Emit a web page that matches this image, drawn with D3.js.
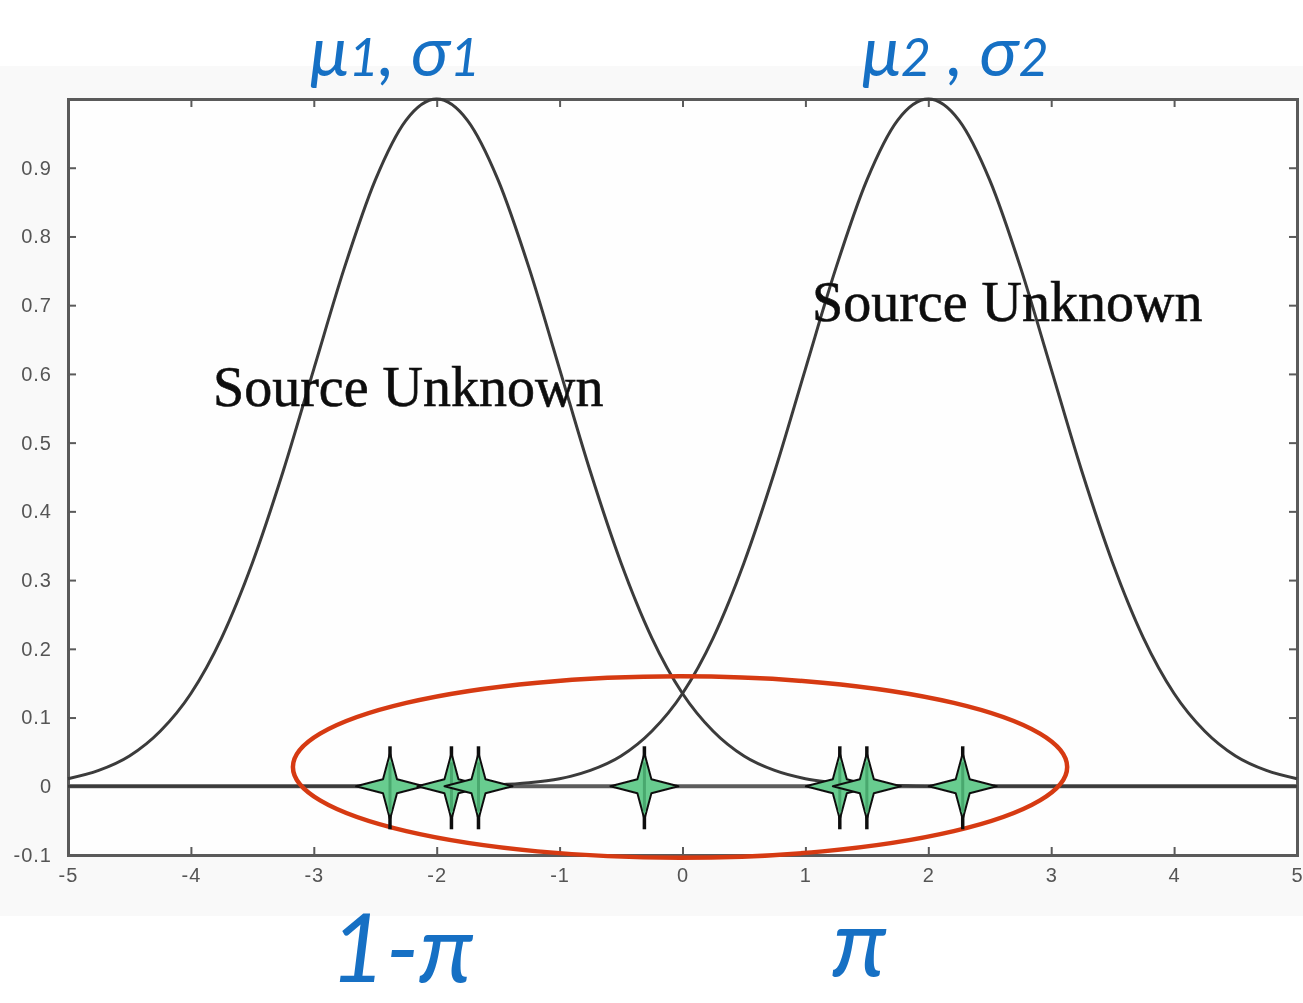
<!DOCTYPE html>
<html>
<head>
<meta charset="utf-8">
<script src="https://cdn.jsdelivr.net/npm/d3@7"></script>
<style>
  html, body { margin: 0; padding: 0; background: #ffffff; }
  svg { display: block; }
</style>
</head>
<body>
<svg id="chart" width="1303" height="1003"></svg>
<script>
// Sample positions along the x axis
const xs = [-5,-4.75,-4.5,-4.25,-4,-3.75,-3.5,-3.25,-3,-2.75,-2.5,-2.25,-2,-1.75,-1.5,-1.25,-1,-0.75,-0.5,-0.25,0,
            0.25,0.5,0.75,1,1.25,1.5,1.75,2,2.25,2.5,2.75,3,3.25,3.5,3.75,4,4.25,4.5,4.75,5];

// Left bell curve (centred at -2)
const curveLeft = [0.011,0.023,0.044,0.080,0.135,0.216,0.325,0.458,0.607,0.755,0.882,0.969,1.000,
                   0.969,0.882,0.755,0.607,0.458,0.325,0.216,0.135,0.080,0.044,0.023,0.011,0.005,0.002,0.001,0.000,
                   0,0,0,0,0,0,0,0,0,0,0,0,0];

// Right bell curve (centred at 2)
const curveRight = [0,0,0,0,0,0,0,0,0,0,0,0,
                    0.000,0.001,0.002,0.005,0.011,0.023,0.044,0.080,0.135,0.216,0.325,0.458,0.607,0.755,0.882,0.969,1.000,
                    0.969,0.882,0.755,0.607,0.458,0.325,0.216,0.135,0.080,0.044,0.023,0.011];

// Observed samples on the zero line
const samples = [-2.38,-1.88,-1.66,-0.31,1.28,1.50,2.28];

// Tick values
const xTicks = [-5,-4,-3,-2,-1,0,1,2,3,4,5];
const yTicks = [-0.1,0,0.1,0.2,0.3,0.4,0.5,0.6,0.7,0.8,0.9];

// Ring around the samples: centre and radii in data units
const ringCenter = [-0.02, 0.028];
const ringRadii = [3.15, 0.132];

const svg = d3.select("#chart");

const x = d3.scaleLinear().domain([-5, 5]).range([68, 1297]);
const y = d3.scaleLinear().domain([-0.1, 1]).range([855, 99]);

// faint backdrop of the figure
svg.append("rect").attr("x", 0).attr("y", 66).attr("width", 1303).attr("height", 850)
  .attr("fill", "#f9f9f9");
svg.append("rect").attr("x", x(-5)).attr("y", y(1)).attr("width", x(5) - x(-5)).attr("height", y(-0.1) - y(1))
  .attr("fill", "#fefefe");

const defs = svg.append("defs");
defs.append("filter").attr("id", "soft")
  .append("feGaussianBlur").attr("stdDeviation", 0.7);

const plot = svg.append("g").attr("filter", "url(#soft)");

const fmt = d => (d < 0 ? "-" : "") + (d === 0 ? "0" : String(Math.abs(d)));

// left axis with inward ticks
const axL = plot.append("g").attr("transform", `translate(${x(-5)},0)`)
  .call(d3.axisLeft(y).tickValues(yTicks).tickSize(-8).tickPadding(16).tickFormat(fmt));
// right axis, ticks only
const axR = plot.append("g").attr("transform", `translate(${x(5)},0)`)
  .call(d3.axisRight(y).tickValues(yTicks).tickSize(-8).tickFormat(""));
// bottom axis with inward ticks
const axB = plot.append("g").attr("transform", `translate(0,${y(-0.1)})`)
  .call(d3.axisBottom(x).tickValues(xTicks).tickSize(-8).tickPadding(18).tickFormat(fmt));
// top axis, ticks only
const axT = plot.append("g").attr("transform", `translate(0,${y(1)})`)
  .call(d3.axisTop(x).tickValues(xTicks).tickSize(-8).tickFormat(""));

[axL, axR, axB, axT].forEach(a => {
  a.select(".domain").attr("stroke", "#5a5a5a").attr("stroke-width", 3);
  a.selectAll(".tick line").attr("stroke", "#5a5a5a").attr("stroke-width", 2);
  a.selectAll(".tick text")
    .attr("fill", "#555")
    .style("font-family", "'Liberation Sans', Arial, sans-serif")
    .style("font-size", "20px")
    .style("letter-spacing", "1px");
});
axB.selectAll(".tick text").attr("dy", "0.45em");

// zero line
plot.append("line")
  .attr("x1", x(-5)).attr("x2", x(5)).attr("y1", y(0)).attr("y2", y(0))
  .attr("stroke", "#5c5c5c").attr("stroke-width", 4);

// bell curves
const line = d3.line()
  .x((d, i) => x(xs[i]))
  .y(d => y(d))
  .curve(d3.curveMonotoneX);

[curveLeft, curveRight].forEach(series => {
  plot.append("path")
    .datum(series)
    .attr("d", line)
    .attr("fill", "none")
    .attr("stroke", "#3a3a3a")
    .attr("stroke-width", 3);
});

// labels on the curves
const labelStyle = sel => sel
  .attr("fill", "#111")
  .attr("stroke", "#111")
  .attr("stroke-width", 0.6)
  .style("font-family", "'Liberation Serif', 'Times New Roman', serif")
  .style("font-size", "56px");
plot.append("text").attr("x", 213).attr("y", 406).text("Source Unknown").call(labelStyle);
plot.append("text").attr("x", 812).attr("y", 321).text("Source Unknown").call(labelStyle);

// ring around the samples
svg.append("ellipse")
  .attr("cx", x(ringCenter[0]))
  .attr("cy", y(ringCenter[1]))
  .attr("rx", x(ringRadii[0]) - x(0))
  .attr("ry", y(0) - y(ringRadii[1]))
  .attr("fill", "none")
  .attr("stroke", "#d63a12")
  .attr("stroke-width", 4.5);

// four-pointed star markers: tapered arms around a square core
const starPath = (w, h, k) =>
  `M0,${-h} L${k},${-k} L${w},0 L${k},${k} L0,${h} L${-k},${k} L${-w},0 L${-k},${-k} Z`;

const stars = svg.append("g").attr("filter", "url(#soft)").selectAll("g.star")
  .data(samples)
  .join("g")
  .attr("class", "star")
  .attr("transform", d => `translate(${x(d)},${y(0)})`);

stars.append("line")
  .attr("x1", 0).attr("x2", 0).attr("y1", -40).attr("y2", 43)
  .attr("stroke", "#111").attr("stroke-width", 3.5);
stars.append("path")
  .attr("d", starPath(34, 33, 7))
  .attr("fill", "#68cc8f")
  .attr("stroke", "#111")
  .attr("stroke-width", 2)
  .attr("stroke-linejoin", "round");
stars.append("line")
  .attr("x1", 0).attr("x2", 0).attr("y1", -24).attr("y2", 26)
  .attr("stroke", "#4aa86e").attr("stroke-width", 3);

// handwritten-style annotations
const ink = sel => sel
  .attr("fill", "#1670c4")
  .style("font-family", "Lato, 'Open Sans', 'DejaVu Sans', sans-serif")
  .style("font-style", "italic")
  .style("font-weight", "400");

const t1 = svg.append("text").attr("x", 310).attr("y", 76).call(ink).style("font-size", "70px");
t1.append("tspan").text("μ");
t1.append("tspan").style("font-size", "52px").text("1");
t1.append("tspan").style("font-size", "70px").text(", σ");
t1.append("tspan").style("font-size", "52px").text("1");

const t2 = svg.append("text").attr("x", 862).attr("y", 76).call(ink).style("font-size", "70px");
t2.append("tspan").text("μ");
t2.append("tspan").style("font-size", "52px").text("2");
t2.append("tspan").style("font-size", "70px").text(" , σ");
t2.append("tspan").style("font-size", "52px").text("2");

svg.append("text").attr("x", 330).attr("y", 982).call(ink).style("font-size", "96px").text("1-π");
svg.append("text").attr("x", 832).attr("y", 976).call(ink).style("font-size", "96px").text("π");
</script>
</body>
</html>
